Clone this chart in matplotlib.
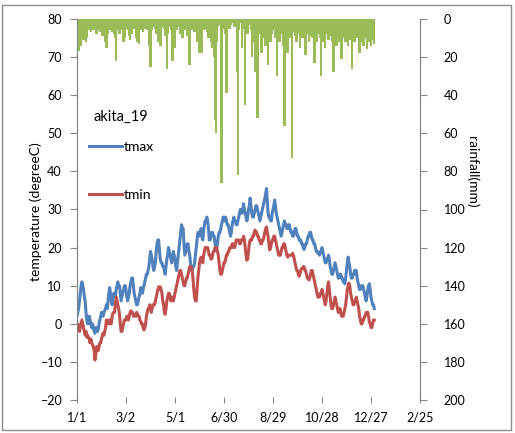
import matplotlib
matplotlib.use("Agg")
import matplotlib.pyplot as plt
from matplotlib.patches import Rectangle

plt.rcParams['font.family'] = ['Lato', 'DejaVu Sans']

tick_pos = [0, 60, 120, 180, 240, 300, 360, 420]
tick_labels = ['1/1', '3/2', '5/1', '6/30', '8/29', '10/28', '12/27', '2/25']

tmax = [
    2, 3, 4, 6, 8, 10, 11, 10, 9, 7,
    6, 3, 1, 0, 0, 2, 1, 0, -1, 0,
    -1, -2, -2.5, -1, -1, -2, -1.5, 0, 1, 2,
    3, 2, 2, 3, 3.5, 4, 5, 4, 6, 8,
    9.5, 8, 6, 5, 7, 8, 8, 7, 9, 10,
    11, 10, 10, 8, 6, 7, 8, 9, 10, 10,
    9, 7, 6, 7, 8, 10, 11, 12, 12, 10,
    8, 7, 6, 5, 5, 6, 7, 8, 9.5, 9,
    8, 9, 10, 11, 12, 13, 13, 14, 15, 17,
    19, 18, 17, 15, 14, 15, 16, 19, 21, 22,
    22, 19, 17, 16, 16, 15, 15, 14, 13, 15,
    17, 18, 20, 19, 18, 17, 16, 17, 19, 18,
    17, 15, 14, 16, 18, 20, 22, 24, 26, 25,
    25, 21, 18, 19, 20, 21, 21, 19, 18, 16,
    14, 14, 15, 15, 16, 18, 20, 22, 24, 24,
    23, 24, 25, 23, 22, 24, 26, 27, 27, 28,
    27, 25, 22, 22, 23, 24, 24, 23, 23, 21,
    20, 20, 21, 23, 24, 24, 25, 26, 27, 28,
    28, 27, 28, 27, 26, 26, 25, 24, 23, 24,
    26, 27, 28, 27, 27, 26, 26, 27, 28, 29,
    30, 30, 29, 30, 31.5, 30, 29, 28, 27, 28,
    30, 31, 33, 31, 29, 28, 28, 29, 30, 31,
    31, 30, 29, 28, 27, 28, 29, 30, 31, 32,
    33, 34, 35.5, 32, 29, 28, 28, 27, 27, 29,
    30, 31, 32.5, 31, 29, 28, 27, 26, 25, 24,
    23, 24, 25, 26, 27, 26, 26, 25, 25, 26,
    26, 25, 24, 24, 23, 23, 24, 25, 25, 24,
    23, 23, 22, 22, 22, 21, 21, 20, 19.5, 20,
    21, 21, 22, 23, 23, 24, 24, 23, 22, 22,
    21, 21, 20, 19, 19, 18.5, 18.5, 18, 19, 19,
    20, 19, 18, 17, 16, 16, 17, 17, 18, 17,
    15, 14, 13, 13, 14, 15, 16, 15, 14, 13,
    12, 12, 13, 13, 12, 12, 11, 11, 10.5, 12,
    14, 16, 17.5, 16, 15, 13, 12, 12, 13, 13,
    14, 14, 14, 12, 11, 10, 9, 9, 10, 10,
    10, 9, 8, 7, 6, 7, 9, 10, 10.5, 9,
    7, 6, 5, 5, 4,
]

tmin = [
    -1, 0, -1.5, -2, -1, 0, 1, 0, -1, -2,
    -3, -2, -3.5, -3, -3.5, -4, -5, -4, -5, -5.5,
    -6, -7, -9.5, -8, -6, -6, -7, -6, -5, -5,
    -4, -3, -2.4, -3, -2, -1, 1, 0, 0, 1,
    1, 0, 0, 2, 2.8, 3, 3, 5, 7, 6,
    5, 4, 2.5, 0, -2, -2, -1, 0, 1, 1,
    1, 2, 2, 1, 2, 3, 3.4, 3, 3, 2,
    2.5, 2, 2, 3, 2.5, 2, 2, 1, 0.6, 0,
    0, -1, -1.6, -1, 0, 2, 3, 4, 4, 5,
    4, 3, 4, 5, 5, 5, 6, 7, 8, 9,
    9.7, 9, 9.7, 9, 8, 6, 5, 3, 2.5, 4,
    6, 7, 8, 8, 7, 6, 7, 7, 6, 7,
    8, 9, 10, 11, 12, 13, 14, 14, 13, 12,
    11, 10, 10, 11, 12, 12, 13, 14, 15, 15,
    15, 14, 12, 9, 7, 6, 6, 9, 12, 14,
    16, 17, 17.5, 17, 16, 18, 19, 20, 20, 20,
    20, 19, 18, 18, 17, 17, 18, 19, 19, 20,
    20, 20, 19, 18, 16, 14, 13, 13, 14, 15,
    16, 16, 17, 18, 18, 19, 19, 20, 20, 20,
    21, 21, 20, 20, 21, 22, 22, 22, 22, 21,
    21, 22, 22, 22, 23, 22, 20, 18, 16.7, 17,
    19, 21, 22, 22, 22, 23, 23, 24, 24.6, 24,
    24, 23, 23, 22, 22, 21, 21, 22, 22, 23,
    24, 25, 25.4, 24, 23, 21, 19.4, 20, 21, 22,
    22, 23, 23, 22, 21, 20, 19, 18, 18, 18,
    19, 20, 20, 21, 21, 20, 19, 18, 17.5, 18,
    18, 18, 18, 18, 18.5, 18, 17, 16, 15, 14,
    14, 13, 12.5, 13, 14, 14.5, 14.5, 15, 15, 14,
    14, 13, 12, 12, 11.5, 12, 13, 14, 14, 13,
    12, 11, 10, 9, 8, 7, 7, 7, 8, 8,
    9, 8, 7, 6, 5, 6, 8, 10, 11, 9,
    7, 5, 4, 4, 5, 6, 7, 6, 5, 4,
    3, 3, 4, 3, 2, 2, 2, 3, 4, 5,
    7, 9, 10, 10.7, 10, 8, 7, 6, 5, 5,
    6, 6, 7, 6, 5, 4, 2, 1, 0, 0,
    1, 1, 2, 2, 3, 3, 3, 2, 0.5, 0,
    -1, -1, 0, 1, 1,
]

rain = [
    12, 15, 17, 8, 10, 14, 6, 9, 11, 5,
    8, 12, 10, 4, 6, 3, 5, 7, 2, 4,
    6, 3, 5, 2, 8, 4, 6, 3, 5, 7,
    4, 9, 6, 3, 10, 12, 15, 14, 8, 5,
    3, 6, 4, 7, 5, 3, 8, 10, 22, 6,
    3, 5, 8, 4, 2, 6, 5, 12, 10, 4,
    3, 5, 2, 6, 9, 11, 4, 8, 3, 2,
    5, 1, 3, 10, 12, 4, 13, 2, 6, 3,
    2, 7, 4, 5, 1, 3, 6, 2, 8, 14,
    25, 6, 2, 4, 3, 1, 5, 8, 3, 2,
    12, 6, 14, 3, 1, 4, 2, 5, 9, 3,
    26, 8, 2, 4, 1, 6, 12, 22, 3, 5,
    15, 2, 6, 4, 1, 3, 8, 2, 5, 10,
    3, 1, 6, 4, 2, 9, 3, 5, 24, 4,
    2, 6, 1, 3, 7, 2, 4, 12, 3, 1,
    18, 5, 2, 18, 4, 6, 1, 3, 5, 7,
    4, 10, 2, 6, 12, 3, 15, 1, 20, 53,
    60, 12, 4, 2, 1, 3, 22, 86, 5, 2,
    3, 8, 1, 39, 4, 2, 1, 5, 3, 0,
    2, 0, 1, 4, 3, 2, 28, 82, 6, 1,
    0, 2, 15, 3, 1, 5, 45, 3, 2, 8,
    1, 0, 3, 6, 20, 12, 4, 2, 28, 15,
    10, 52, 6, 3, 8, 5, 18, 3, 2, 10,
    5, 14, 8, 4, 24, 6, 2, 12, 3, 8,
    4, 6, 3, 10, 7, 30, 5, 2, 12, 8,
    3, 6, 14, 4, 56, 8, 2, 5, 18, 6,
    3, 10, 4, 73, 7, 2, 6, 9, 4, 12,
    5, 8, 3, 15, 6, 4, 10, 2, 7, 5,
    19, 6, 3, 8, 12, 4, 9, 5, 10, 3,
    7, 23, 4, 6, 12, 3, 8, 5, 10, 30,
    6, 12, 4, 9, 15, 7, 3, 8, 11, 5,
    9, 4, 12, 6, 28, 8, 5, 10, 14, 6,
    8, 12, 5, 9, 21, 7, 10, 6, 8, 12,
    5, 9, 14, 8, 6, 11, 7, 26, 9, 6,
    12, 8, 5, 10, 7, 11, 18, 6, 9, 12,
    8, 14, 6, 10, 9, 16, 7, 12, 8, 10,
    14, 6, 11, 9, 13,
]

days = list(range(len(tmax)))

W, H = 515, 433
fig = plt.figure(figsize=(W / 100, H / 100), dpi=100)
ax = fig.add_axes([77 / W, 1 - 400 / H, (420 - 77) / W, (400 - 19) / H])
ax2 = ax.twinx()

gray = '#868686'
l1, = ax.plot(days, tmax, color='#4F81BD', lw=2.2, label='tmax')
l2, = ax.plot(days, tmin, color='#C0504D', lw=2.2, label='tmin')
ax2.bar(days, rain, width=3.0, color='#9BBB59', align='center', linewidth=0)

ax.set_xlim(0, 420)
ax.set_ylim(-20, 80)
ax.set_yticks(range(-20, 81, 10))
ax.set_xticks(tick_pos)
ax.set_xticklabels(tick_labels)
ax2.set_ylim(200, 0)
ax2.set_yticks(range(0, 201, 20))

for a in (ax, ax2):
    a.spines['top'].set_visible(False)
    a.spines['bottom'].set_visible(False)
    a.spines['left'].set_color(gray)
    a.spines['right'].set_color(gray)
    a.set_facecolor('none')

ax.tick_params(axis='y', direction='out', length=5, color=gray, labelsize=9, pad=6)
ax.tick_params(axis='x', direction='inout', length=5, color=gray, labelsize=9, pad=6)
ax2.tick_params(axis='y', direction='out', length=5, color=gray, labelsize=9, pad=12)

ax.set_ylabel('temperature (degreeC)', fontsize=10)
ax.yaxis.set_label_coords((42 - 77) / 343, (400 - 212) / 381)
ax2.set_ylabel('rainfall(mm)', fontsize=10, rotation=270, va='center')
ax2.yaxis.set_label_coords((472 - 77) / 343, (400 - 172) / 381)

ax2.text((93 - 77) / 343, (400 - 117) / 381, 'akita_19', transform=ax2.transAxes,
         fontsize=10.5, ha='left', va='center')
leg = ax2.legend(handles=[l1, l2], loc='upper left',
                 bbox_to_anchor=((89 - 77) / 343, (400 - 141) / 381),
                 frameon=False, fontsize=10, labelspacing=2.6,
                 handlelength=2.4, handletextpad=0.1, borderpad=0,
                 borderaxespad=0)

fig.patches.append(Rectangle((2 / W, 3 / H), (511 - 2) / W, (428 - 3) / H,
                             transform=fig.transFigure, fill=False,
                             edgecolor='#8c8c8c', linewidth=1.0))

fig.savefig('out.png', dpi=100)
